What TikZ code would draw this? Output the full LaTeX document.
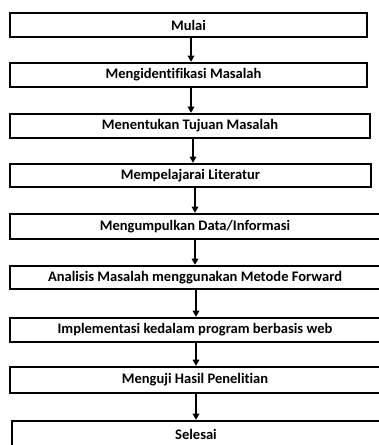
\documentclass[tikz,border=0pt]{standalone}
\usepackage{fontspec}
\setmainfont[Ligatures={NoCommon}]{Carlito}
\usetikzlibrary{arrows.meta}
\begin{document}
\begin{tikzpicture}[x=0.75pt,y=-0.75pt,
  box/.style={draw=black,line width=1.9pt,rectangle,inner sep=0pt,
    font=\fontsize{10.9}{12}\selectfont\bfseries},
  arr/.style={line width=0.8pt,-{Triangle[width=5pt,length=4.5pt]}}]
\useasboundingbox[fill=white] (0,0) rectangle (378,445);
\node[box,minimum width=357*0.75pt,minimum height=24*0.75pt] (b1) at (188.5,25) {Mulai};
\node[box,minimum width=357*0.75pt,minimum height=24*0.75pt] (b2) at (188.5,75) {Mengidentifikasi Masalah\hspace*{7.5pt}};
\node[box,minimum width=360*0.75pt,minimum height=24*0.75pt] (b3) at (190,126) {Menentukan Tujuan Masalah};
\node[box,minimum width=361*0.75pt,minimum height=23*0.75pt] (b4) at (190.5,175.5) {Mempelajarai Literatur};
\node[box,minimum width=370*0.75pt,minimum height=25*0.75pt] (b5) at (195,226.5) {Mengumpulkan Data/Informasi};
\node[box,minimum width=370*0.75pt,minimum height=23*0.75pt] (b6) at (195,277.5) {Analisis Masalah menggunakan Metode Forward};
\node[box,minimum width=370*0.75pt,minimum height=24*0.75pt] (b7) at (195,330) {Implementasi kedalam program berbasis web};
\node[box,minimum width=370*0.75pt,minimum height=26*0.75pt] (b8) at (195,380) {Menguji Hasil Penelitian};
\node[box,minimum width=368*0.75pt,minimum height=26*0.75pt] (b9) at (196,434) {Selesai};
\coordinate (x1) at (191,0);
\coordinate (x2) at (193,0);
\coordinate (x3) at (195,0);
\coordinate (x4) at (196,0);
\draw[arr] (b1.south -| x1) -- (b2.north -| x1);
\draw[arr] (b2.south -| x1) -- (b3.north -| x1);
\draw[arr] (b3.south -| x2) -- (b4.north -| x2);
\draw[arr] (b4.south -| x3) -- (b5.north -| x3);
\draw[arr] (b5.south -| x3) -- (b6.north -| x3);
\draw[arr] (b6.south -| x4) -- (b7.north -| x4);
\draw[arr] (b7.south -| x4) -- (b8.north -| x4);
\draw[arr] (b8.south -| x4) -- (b9.north -| x4);
\end{tikzpicture}
\end{document}
